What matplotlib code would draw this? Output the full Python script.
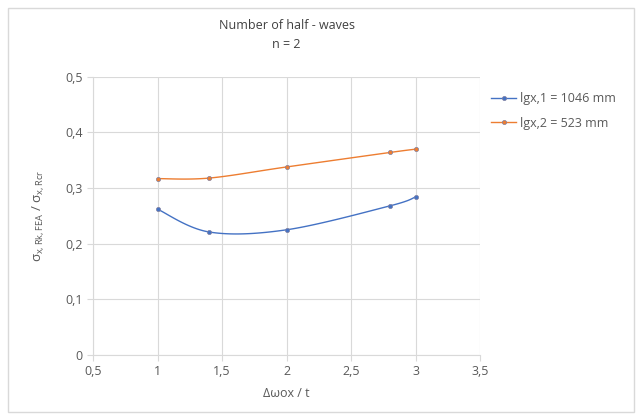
import numpy as np
import matplotlib.pyplot as plt
from matplotlib.patches import Rectangle

plt.rcParams['font.family'] = ['Open Sans', 'DejaVu Sans']
plt.rcParams['mathtext.fontset'] = 'custom'
plt.rcParams['mathtext.rm'] = 'Open Sans'
plt.rcParams['mathtext.it'] = 'Open Sans'

# Data
x_ratio = [1.0, 1.4, 2.0, 2.8, 3.0]
sigma_l1 = [0.262, 0.221, 0.225, 0.268, 0.284]   # lgx,1 = 1046 mm
sigma_l2 = [0.317, 0.318, 0.338, 0.364, 0.370]   # lgx,2 = 523 mm
series_labels = ['lgx,1 = 1046 mm', 'lgx,2 = 523 mm']

x_ticks = [0.5, 1, 1.5, 2, 2.5, 3, 3.5]
x_ticklabels = ['0,5', '1', '1,5', '2', '2,5', '3', '3,5']
y_ticks = [0, 0.1, 0.2, 0.3, 0.4, 0.5]
y_ticklabels = ['0', '0,1', '0,2', '0,3', '0,4', '0,5']

blue = '#4472C4'
orange = '#ED7D31'
grid_col = '#D9D9D9'
text_col = '#595959'


# Excel-like smoothed line (Catmull-Rom through the points)
def smooth(xs, ys, n=30):
    xs = np.asarray(xs, float)
    ys = np.asarray(ys, float)
    px = np.concatenate([[xs[0]], xs, [xs[-1]]])
    py = np.concatenate([[ys[0]], ys, [ys[-1]]])
    out_x, out_y = [], []
    for i in range(1, len(px) - 2):
        t = np.linspace(0, 1, n)
        for p, out in ((px, out_x), (py, out_y)):
            p0, p1, p2, p3 = p[i - 1], p[i], p[i + 1], p[i + 2]
            out.extend(0.5 * (2 * p1 + (-p0 + p2) * t
                              + (2 * p0 - 5 * p1 + 4 * p2 - p3) * t ** 2
                              + (-p0 + 3 * p1 - 3 * p2 + p3) * t ** 3))
    return out_x, out_y


fig = plt.figure(figsize=(6.42, 4.2), dpi=100)
fig.patches.append(Rectangle((8 / 642, 8 / 420), 626 / 642, 404 / 420,
                             transform=fig.transFigure, fill=False,
                             edgecolor='#D9D9D9', linewidth=1))
ax = fig.add_axes([0.145, 0.155, 0.603, 0.662])

for ys, col, lab in ((sigma_l1, blue, series_labels[0]),
                     (sigma_l2, orange, series_labels[1])):
    sx, sy = smooth(x_ratio, ys)
    ax.plot(sx, sy, color=col, linewidth=1.0)
    ax.plot(x_ratio, ys, linestyle='none', marker='o', markersize=3,
            color=col, markeredgecolor='#7F7F9F', markeredgewidth=0.5)
    ax.plot([], [], color=col, linewidth=1.0, marker='o', markersize=3,
            markeredgecolor='#7F7F9F', markeredgewidth=0.5, label=lab)

ax.set_xlim(0.5, 3.5)
ax.set_ylim(0, 0.5)
ax.set_xticks(x_ticks)
ax.set_xticklabels(x_ticklabels)
ax.set_yticks(y_ticks)
ax.set_yticklabels(y_ticklabels)
ax.grid(True, color=grid_col, linewidth=0.8)
ax.set_axisbelow(True)
for s in ['top', 'right']:
    ax.spines[s].set_visible(False)
for s in ['left', 'bottom']:
    ax.spines[s].set_color(grid_col)
ax.tick_params(colors=grid_col, labelcolor=text_col, labelsize=9,
               length=4, direction='out')

ax.set_xlabel('\u0394\u03c9ox / t', color=text_col, fontsize=9, labelpad=6)
ax.set_ylabel(r'$\sigma_{x,Rk,FEA}$ / $\sigma_{x,Rcr}$', color=text_col,
              fontsize=9.5, labelpad=14)
ax.set_title('Number of half - waves\nn = 2', color='#404040', fontsize=9,
             pad=21, linespacing=1.6)

ax.legend(loc='upper left', bbox_to_anchor=(1.0, 0.985), frameon=False,
          fontsize=9, labelcolor=text_col, handlelength=2.0,
          handletextpad=0.3, labelspacing=0.9)

plt.savefig('out.png', dpi=100)
